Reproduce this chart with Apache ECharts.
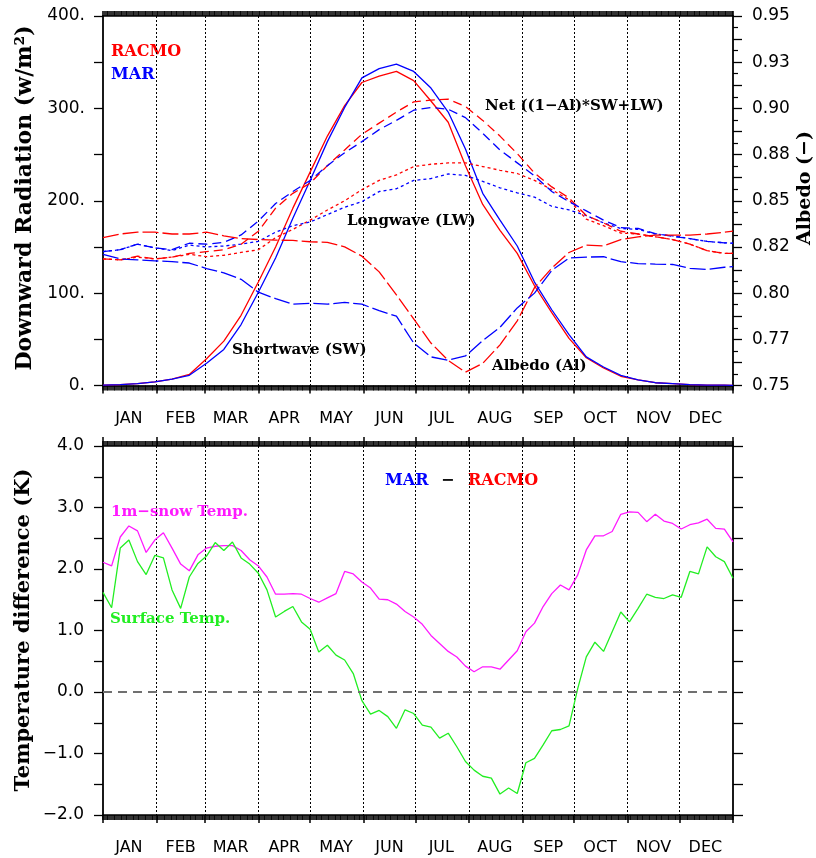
<!DOCTYPE html>
<html>
<head>
<meta charset="utf-8">
<script src="https://cdn.jsdelivr.net/npm/echarts@6.0.0/dist/echarts.min.js"></script>
<style>
  html, body { margin: 0; padding: 0; background: #fff; }
  #chart { width: 816px; height: 858px; }
</style>
</head>
<body>
<div id="chart"></div>
<script>
// ---- axis scaffolding ----
const monthNames = ['JAN', 'FEB', 'MAR', 'APR', 'MAY', 'JUN', 'JUL', 'AUG', 'SEP', 'OCT', 'NOV', 'DEC']
const monthEdges = [0, 31, 59, 90, 120, 151, 181, 212, 243, 273, 304, 334, 365]
const monthMids = [15, 45, 74, 105, 135, 166, 196, 227, 258, 288, 319, 349]
const albedoTickLabels = ['0.75', '0.77', '0.80', '0.82', '0.85', '0.88', '0.90', '0.93', '0.95']

// ---- top panel: radiation (W/m2) and albedo, day of year ----
const topDays = [0, 10, 20, 30, 40, 50, 60, 70, 80, 90, 100, 110, 120, 130, 140, 150, 160, 170, 180,
  190, 200, 210, 220, 230, 240, 250, 260, 270, 280, 290, 300, 310, 320, 330, 340, 350, 360, 365]

const swRacmo = [0.5, 1, 2, 4, 7, 12, 29, 48, 76, 112, 150, 192, 231, 270, 303, 328, 335, 340, 330,
  308, 285, 238, 196, 168, 143, 108, 79, 51, 30, 19, 10, 6, 3, 2, 1, 0.5, 0.3, 0.2]
const swMar = [0.5, 1, 2, 4, 7, 11, 24, 39, 66, 101, 138, 181, 222, 264, 301, 333, 343, 348, 340,
  322, 296, 256, 208, 179, 151, 112, 82, 55, 31, 20, 11, 6, 3, 2, 1, 0.5, 0.3, 0.2]

const lwRacmo = [137, 136, 139, 137, 139, 142, 139.5, 141, 144, 147, 160, 169, 179, 190, 200, 212, 222, 228, 237,
  239.5, 241, 241, 237, 233, 229.5, 222, 212, 201, 180, 173, 165, 164, 161, 158, 153, 146, 143, 143]
const lwMar = [145, 147, 153, 149, 146, 152, 150, 151, 153, 156, 166, 173, 177, 185, 193, 199, 210, 213, 222,
  224, 229, 227.5, 221, 214, 208.5, 204, 194, 190, 184, 176, 170, 169, 164, 162, 159, 156, 154.5, 154]

const netRacmo = [137, 136, 140, 137, 139, 143, 145, 147, 153, 167, 192, 208, 219, 238, 255, 272, 284, 296, 307,
  309, 310, 302, 287, 270, 251, 230, 215, 203, 184, 176, 167, 164, 161, 158, 153, 146, 143, 143]
const netMar = [145, 147, 153, 149, 147, 154, 153, 155, 163, 178, 197, 210, 222, 238, 252, 264, 277, 287, 298,
  301, 299, 290, 273, 255, 241, 227, 210, 199, 189, 179, 171, 170, 164.5, 161.5, 159, 156, 154.5, 154]

const albRacmo = [0.830, 0.832, 0.833, 0.833, 0.832, 0.832, 0.833, 0.831, 0.8295, 0.829, 0.8287, 0.8285, 0.8278,
  0.8275, 0.825, 0.820, 0.8115, 0.799, 0.786, 0.773, 0.7636, 0.7572, 0.762, 0.772, 0.785, 0.803, 0.8135,
  0.822, 0.826, 0.8255, 0.829, 0.8305, 0.8314, 0.8314, 0.8314, 0.832, 0.833, 0.8336]
const albMar = [0.821, 0.8185, 0.818, 0.8175, 0.817, 0.8163, 0.8133, 0.811, 0.8075, 0.8005, 0.797, 0.794, 0.7945,
  0.794, 0.795, 0.794, 0.7905, 0.7875, 0.773, 0.7655, 0.7637, 0.766, 0.7743, 0.7815, 0.792, 0.800, 0.8123,
  0.819, 0.8195, 0.8197, 0.817, 0.816, 0.8157, 0.8155, 0.8134, 0.8128, 0.814, 0.8143]

// ---- bottom panel: MAR - RACMO temperature difference (K), pentads ----
const pentadDays = [0, 5, 10, 15, 20, 25, 30, 35, 40, 45, 50, 55, 60, 65, 70, 75, 80, 85, 90, 95,
  100, 105, 110, 115, 120, 125, 130, 135, 140, 145, 150, 155, 160, 165, 170, 175, 180, 185, 190, 195,
  200, 205, 210, 215, 220, 225, 230, 235, 240, 245, 250, 255, 260, 265, 270, 275, 280, 285, 290, 295,
  300, 305, 310, 315, 320, 325, 330, 335, 340, 345, 350, 355, 360, 365]

const snowDiff = [2.11, 2.05, 2.52, 2.70, 2.62, 2.27, 2.47, 2.59, 2.34, 2.08,
  1.97, 2.23, 2.34, 2.37, 2.38, 2.38, 2.30, 2.15, 2.05, 1.87,
  1.59, 1.59, 1.60, 1.59, 1.52, 1.46, 1.53, 1.60, 1.96, 1.92,
  1.79, 1.69, 1.51, 1.50, 1.43, 1.31, 1.22, 1.10, 0.92, 0.79,
  0.66, 0.57, 0.42, 0.33, 0.41, 0.41, 0.37, 0.52, 0.67, 0.98,
  1.12, 1.39, 1.60, 1.74, 1.66, 1.90, 2.31, 2.54, 2.54, 2.61,
  2.89, 2.93, 2.92, 2.77, 2.89, 2.78, 2.74, 2.65, 2.72, 2.75,
  2.81, 2.66, 2.65, 2.44]
const sfcDiff = [1.62, 1.37, 2.34, 2.47, 2.12, 1.91, 2.22, 2.18, 1.66, 1.36,
  1.87, 2.09, 2.21, 2.43, 2.30, 2.44, 2.18, 2.08, 1.93, 1.66,
  1.22, 1.31, 1.39, 1.14, 1.02, 0.65, 0.76, 0.60, 0.52, 0.30,
  -0.14, -0.36, -0.30, -0.40, -0.59, -0.29, -0.35, -0.54, -0.57, -0.75,
  -0.67, -0.89, -1.13, -1.27, -1.37, -1.40, -1.66, -1.56, -1.65, -1.15,
  -1.08, -0.86, -0.63, -0.61, -0.55, 0.05, 0.57, 0.81, 0.66, 0.98,
  1.30, 1.14, 1.36, 1.59, 1.54, 1.52, 1.58, 1.54, 1.96, 1.92,
  2.36, 2.20, 2.12, 1.85]

const RED = '#ff0000'
const BLUE = '#0000ff'
const MAGENTA = '#ff1aff'
const GREEN = '#22ee22'
const LABEL_FONT = 'DejaVu Sans'
const TITLE_FONT = '"DejaVu Serif", serif'

const dayCats = Array.from({ length: 366 }, (_, i) => String(i))

// month ticks / labels / dotted dividers
function monthAxis(grid, pos, withLabels, tickLen) {
  return {
    type: 'category', gridIndex: grid, position: pos, data: dayCats, boundaryGap: false,
    axisLine: { show: true, onZero: false, lineStyle: { color: '#000', width: 1.5 } },
    axisTick: {
      show: tickLen > 0, interval: (i) => monthEdges.includes(i), length: tickLen,
      lineStyle: { color: '#000', width: 1.5 },
    },
    axisLabel: {
      show: withLabels, interval: (i) => monthMids.includes(i),
      formatter: (v) => {
        const k = monthMids.indexOf(Number(v))
        return k < 0 ? '' : monthNames[k]
      },
      margin: 25, color: '#000', fontFamily: LABEL_FONT, fontSize: 16,
    },
    splitLine: {
      show: withLabels, interval: (i) => i > 0 && i < 365 && monthEdges.includes(i),
      lineStyle: { color: '#000', width: 1, type: [2, 2] },
    },
  }
}

// one tick per day -> the hatched black band on the frame
function dayAxis(grid, pos, showLine) {
  return {
    type: 'category', gridIndex: grid, position: pos, data: dayCats, boundaryGap: false,
    axisLine: { show: showLine, onZero: false, lineStyle: { color: '#000', width: 1.5 } },
    axisTick: { show: true, interval: 0, length: 5, lineStyle: { color: '#000', width: 1.6 } },
    axisLabel: { show: false },
    splitLine: { show: false },
  }
}

function plotAxis(grid) {
  return { type: 'value', gridIndex: grid, min: 0, max: 365, show: false }
}

function line(name, xs, ys, color, dash, xi, yi) {
  return {
    name, type: 'line', xAxisIndex: xi, yAxisIndex: yi,
    data: xs.map((d, i) => [d, ys[i]]),
    symbol: 'none', showSymbol: false, silent: true,
    lineStyle: { color, width: 1.3, type: dash },
    itemStyle: { color },
  }
}

const tickLabel = { color: '#000', fontFamily: LABEL_FONT, fontSize: 17 }
const frameLine = { show: true, onZero: false, lineStyle: { color: '#000', width: 1.8 } }
const frameTick = { show: true, length: 9, lineStyle: { color: '#000', width: 1.3 } }

const DASH_NET = [9, 5]
const DOT_LW = [3, 3]
const DASH_AL = [16, 4]

const option = {
  animation: false,
  backgroundColor: '#fff',
  grid: [
    { left: 103, right: 83, top: 16, bottom: 472.5, outerBoundsMode: 'none' },
    { left: 103, right: 83, top: 446, bottom: 43, outerBoundsMode: 'none' },
  ],
  xAxis: [
    plotAxis(0),                    // 0
    monthAxis(0, 'bottom', true, 8),  // 1
    dayAxis(0, 'bottom', false),      // 2
    dayAxis(0, 'top', true),          // 3
    plotAxis(1),                    // 4
    monthAxis(1, 'bottom', true, 8),  // 5
    dayAxis(1, 'bottom', false),      // 6
    monthAxis(1, 'top', false, 9),    // 7
    dayAxis(1, 'top', false),         // 8
  ],
  yAxis: [
    {
      type: 'value', gridIndex: 0, position: 'left', min: 0, max: 400, interval: 50,
      axisLine: frameLine, axisTick: frameTick, splitLine: { show: false },
      axisLabel: { ...tickLabel, margin: 18, formatter: (v) => (v % 100 === 0 ? v + '.' : '') },
    },
    {
      type: 'value', gridIndex: 0, position: 'right', min: 0.75, max: 0.95, interval: 0.0125,
      axisLine: frameLine, axisTick: frameTick, splitLine: { show: false },
      minorTick: { show: true, splitNumber: 2, length: 5, lineStyle: { color: '#000', width: 1.2 } },
      minorSplitLine: { show: false },
      axisLabel: {
        ...tickLabel, margin: 19,
        formatter: (v) => {
          const k = Math.round((v - 0.75) / 0.0125)
          return k % 2 === 0 ? albedoTickLabels[k / 2] : ''
        },
      },
    },
    {
      type: 'value', gridIndex: 1, position: 'left', min: -2, max: 4, interval: 0.5,
      axisLine: frameLine, axisTick: frameTick, splitLine: { show: false },
      axisLabel: {
        ...tickLabel, margin: 19,
        formatter: (v) => {
          if (Math.abs(v - Math.round(v)) > 1e-6) return ''
          return (v < 0 ? '\u2212' : '') + Math.abs(v).toFixed(1)
        },
      },
    },
    {
      type: 'value', gridIndex: 1, position: 'right', min: -2, max: 4, interval: 0.5,
      axisLine: frameLine, axisTick: { ...frameTick, length: 10 }, splitLine: { show: false },
      axisLabel: { show: false },
    },
  ],
  series: [
    line('SW RACMO', topDays, swRacmo, RED, 'solid', 0, 0),
    line('SW MAR', topDays, swMar, BLUE, 'solid', 0, 0),
    line('LW RACMO', topDays, lwRacmo, RED, DOT_LW, 0, 0),
    line('LW MAR', topDays, lwMar, BLUE, DOT_LW, 0, 0),
    line('Net RACMO', topDays, netRacmo, RED, DASH_NET, 0, 0),
    line('Net MAR', topDays, netMar, BLUE, DASH_NET, 0, 0),
    line('Albedo RACMO', topDays, albRacmo, RED, DASH_AL, 0, 1),
    line('Albedo MAR', topDays, albMar, BLUE, DASH_AL, 0, 1),
    line('1m-snow Temp.', pentadDays, snowDiff, MAGENTA, 'solid', 4, 2),
    {
      ...line('Surface Temp.', pentadDays, sfcDiff, GREEN, 'solid', 4, 2),
      markLine: {
        silent: true, symbol: ['none', 'none'], label: { show: false },
        lineStyle: { color: '#707070', width: 1.8, type: [9, 6] },
        data: [{ yAxis: 0 }],
      },
    },
  ],
  graphic: [
    // axis titles
    { type: 'text', x: 25, y: 198, rotation: Math.PI / 2,
      style: { text: 'Downward Radiation (w/m\u00b2)', font: 'bold 22px ' + TITLE_FONT, fill: '#000', align: 'center', verticalAlign: 'middle' } },
    { type: 'text', x: 805, y: 188, rotation: Math.PI / 2,
      style: { text: 'Albedo (\u2212)', font: 'bold 19px ' + TITLE_FONT, fill: '#000', align: 'center', verticalAlign: 'middle' } },
    { type: 'text', x: 24, y: 630, rotation: Math.PI / 2,
      style: { text: 'Temperature difference (K)', font: 'bold 21px ' + TITLE_FONT, fill: '#000', align: 'center', verticalAlign: 'middle' } },
    // top panel annotations
    { type: 'text', x: 111, y: 52, style: { text: 'RACMO', font: 'bold 16px ' + TITLE_FONT, fill: RED, verticalAlign: 'middle' } },
    { type: 'text', x: 111, y: 75, style: { text: 'MAR', font: 'bold 16px ' + TITLE_FONT, fill: BLUE, verticalAlign: 'middle' } },
    { type: 'text', x: 485, y: 106, style: { text: 'Net ((1\u2212Al)*SW+LW)', font: 'bold 15px ' + TITLE_FONT, fill: '#000', verticalAlign: 'middle' } },
    { type: 'text', x: 347, y: 221, style: { text: 'Longwave (LW)', font: 'bold 15px ' + TITLE_FONT, fill: '#000', verticalAlign: 'middle' } },
    { type: 'text', x: 232, y: 350, style: { text: 'Shortwave (SW)', font: 'bold 15px ' + TITLE_FONT, fill: '#000', verticalAlign: 'middle' } },
    { type: 'text', x: 492, y: 366, style: { text: 'Albedo (Al)', font: 'bold 15px ' + TITLE_FONT, fill: '#000', verticalAlign: 'middle' } },
    // bottom panel annotations
    { type: 'text', x: 385, y: 481, style: { text: 'MAR', font: 'bold 16px ' + TITLE_FONT, fill: BLUE, verticalAlign: 'middle' } },
    { type: 'text', x: 441, y: 481, style: { text: '\u2212', font: 'bold 16px ' + TITLE_FONT, fill: '#000', verticalAlign: 'middle' } },
    { type: 'text', x: 468, y: 481, style: { text: 'RACMO', font: 'bold 16px ' + TITLE_FONT, fill: RED, verticalAlign: 'middle' } },
    { type: 'text', x: 111, y: 512, style: { text: '1m\u2212snow Temp.', font: 'bold 15px ' + TITLE_FONT, fill: MAGENTA, verticalAlign: 'middle' } },
    { type: 'text', x: 110, y: 619, style: { text: 'Surface Temp.', font: 'bold 15px ' + TITLE_FONT, fill: GREEN, verticalAlign: 'middle' } },
  ],
}

const chart = echarts.init(document.getElementById('chart'))
chart.setOption(option)
window.addEventListener('resize', () => chart.resize())
</script>
</body>
</html>
